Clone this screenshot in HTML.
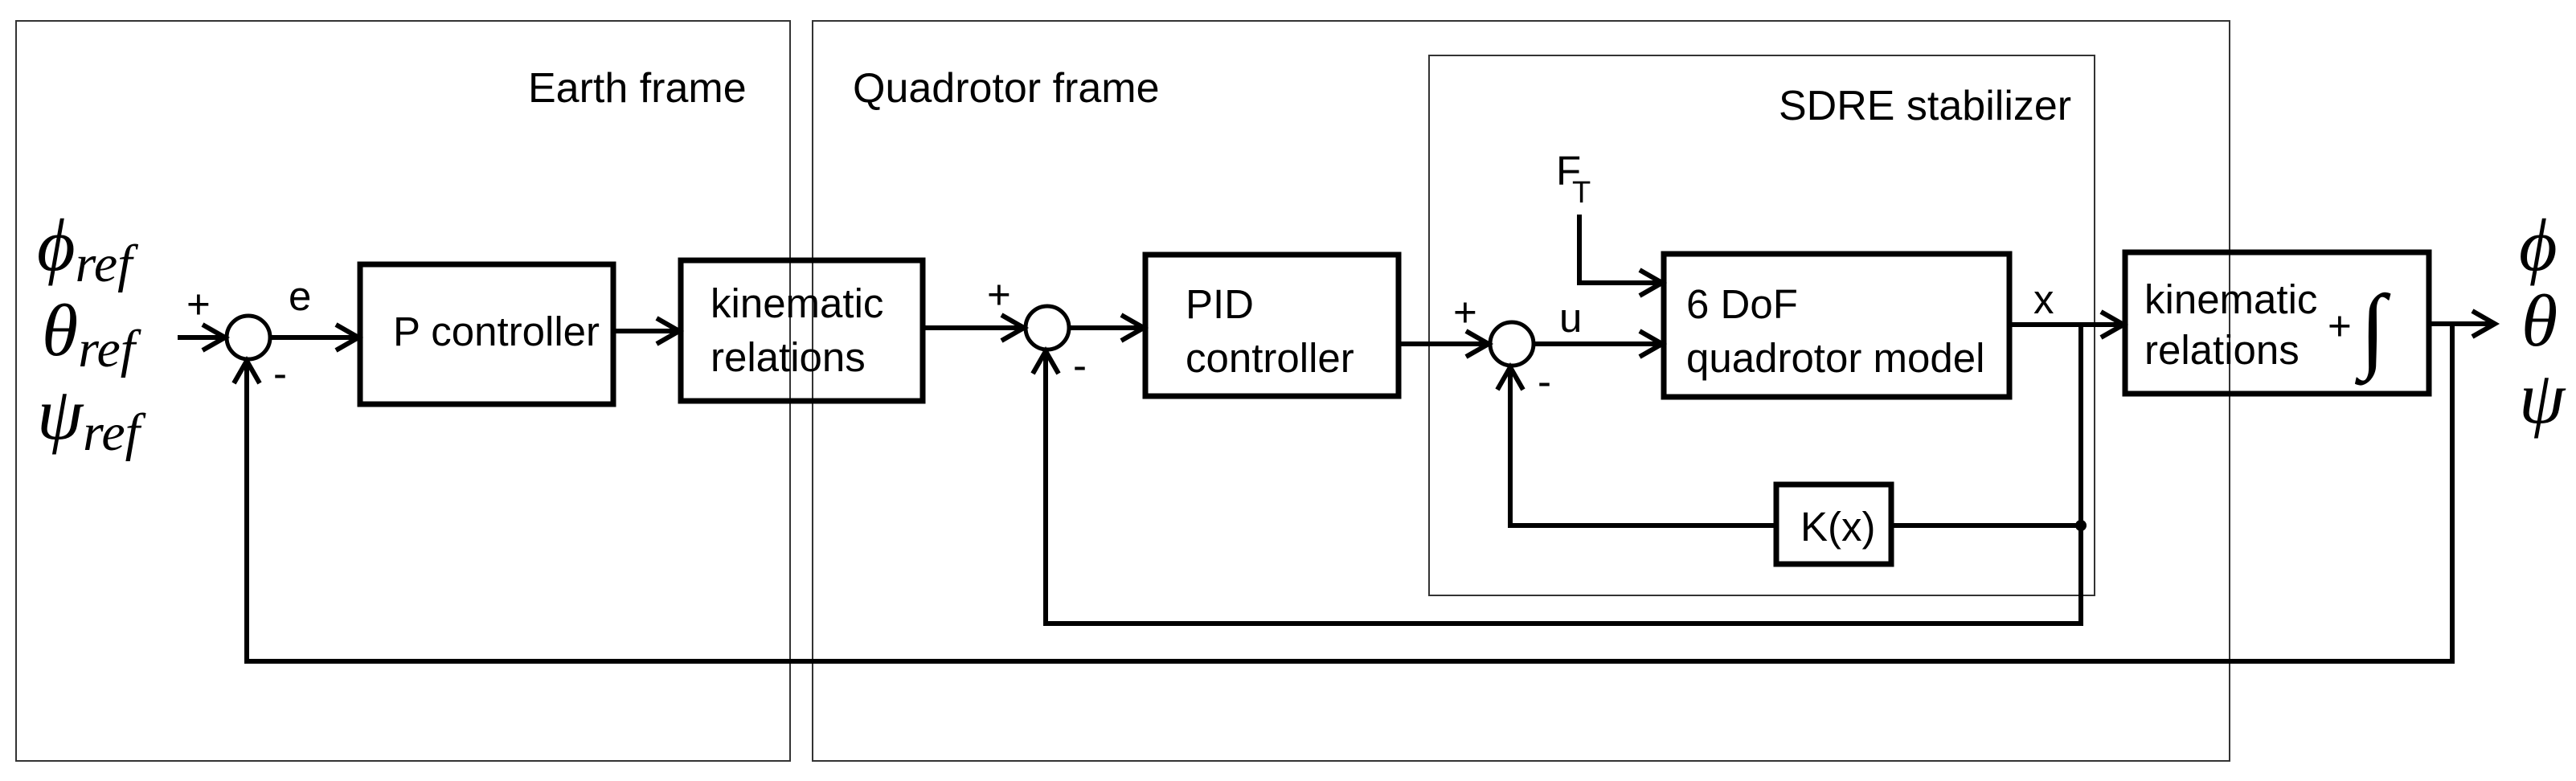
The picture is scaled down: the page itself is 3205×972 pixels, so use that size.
<!DOCTYPE html>
<html><head><meta charset="utf-8"><style>
html,body{margin:0;padding:0;background:#fff;}
svg{display:block;}
.t{font-family:"Liberation Sans",sans-serif;fill:#000;}
.m{font-family:"Liberation Serif",serif;font-style:italic;fill:#000;}
</style></head><body>
<svg width="3205" height="972" viewBox="0 0 3205 972" xmlns="http://www.w3.org/2000/svg">
<g fill="none" stroke="#333" stroke-width="2">
<rect x="20" y="26" width="963" height="921"/>
<rect x="1011" y="26" width="1763" height="921"/>
<rect x="1778" y="69" width="828" height="672"/>
</g>
<g class="t" font-size="52">
<text x="657" y="127">Earth frame</text>
<text x="1061" y="127">Quadrotor frame</text>
<text x="2213" y="149">SDRE stabilizer</text>
</g>
<g fill="none" stroke="#000" stroke-width="7">
<rect x="448" y="329" width="315" height="174"/>
<rect x="847" y="324" width="301" height="175"/>
<rect x="1425" y="317" width="315" height="176"/>
<rect x="2070" y="316" width="430" height="178"/>
<rect x="2210" y="603" width="143" height="99"/>
<rect x="2644" y="314" width="378" height="176"/>
</g>
<g fill="none" stroke="#000" stroke-width="5">
<circle cx="309" cy="420" r="27"/>
<circle cx="1303" cy="408" r="27"/>
<circle cx="1881" cy="428" r="27"/>
</g>
<g fill="none" stroke="#000" stroke-width="6" stroke-linejoin="miter">
<line x1="221" y1="420" x2="280" y2="420"/>
<polyline points="252,404 280,420 252,436"/>
<line x1="336" y1="420" x2="446" y2="420"/>
<polyline points="418,404 446,420 418,436"/>
<line x1="763" y1="412" x2="845" y2="412"/>
<polyline points="817,396 845,412 817,428"/>
<line x1="1148" y1="408" x2="1274" y2="408"/>
<polyline points="1246,392 1274,408 1246,424"/>
<line x1="1330" y1="408" x2="1423" y2="408"/>
<polyline points="1395,392 1423,408 1395,424"/>
<line x1="1740" y1="428" x2="1852" y2="428"/>
<polyline points="1824,412 1852,428 1824,444"/>
<line x1="1908" y1="428" x2="2068" y2="428"/>
<polyline points="2040,412 2068,428 2040,444"/>
<polyline points="1965,267 1965,352 2068,352"/>
<polyline points="2040,336 2068,352 2040,368"/>
<line x1="2500" y1="404" x2="2642" y2="404"/>
<polyline points="2614,388 2642,404 2614,420"/>
<line x1="3022" y1="403" x2="3104" y2="403"/>
<polyline points="3076,387 3104,403 3076,419"/>
<polyline points="2589,404 2589,776 1301,776 1301,437"/>
<polyline points="1285,465 1301,437 1317,465"/>
<line x1="2589" y1="654" x2="2353" y2="654"/>
<polyline points="2210,654 1879,654 1879,457"/>
<polyline points="1863,485 1879,457 1895,485"/>
<polyline points="3051,403 3051,823 307,823 307,449"/>
<polyline points="291,477 307,449 323,477"/>
</g>
<circle cx="2589" cy="654" r="7" fill="#000"/>
<g class="t" font-size="51">
<text x="489" y="430">P controller</text>
<text x="884" y="395">kinematic</text>
<text x="884" y="462">relations</text>
<text x="1475" y="396">PID</text>
<text x="1475" y="463">controller</text>
<text x="2098" y="396">6 DoF</text>
<text x="2098" y="463">quadrotor model</text>
<text x="2240" y="673">K(x)</text>
<text x="2668" y="390">kinematic</text>
<text x="2668" y="453">relations</text>
<text x="2896" y="423">+</text>
<text x="232" y="396">+</text>
<text x="359" y="386">e</text>
<text x="340" y="482">-</text>
<text x="1228" y="384">+</text>
<text x="1335" y="472">-</text>
<text x="1808" y="406">+</text>
<text x="1940" y="413">u</text>
<text x="1913" y="492">-</text>
<text x="2530" y="390">x</text>
<text x="1936" y="230">F</text>
<text x="1956" y="252" font-size="38">T</text>
</g>
<text class="m" x="2936" y="448" font-size="118" font-style="normal">∫</text>
<g class="m" font-size="92">
<text x="46" y="336">ϕ<tspan font-size="66" dy="14">ref</tspan></text>
<text x="52" y="442">θ<tspan font-size="66" dy="14">ref</tspan></text>
<text x="46" y="546">ψ<tspan font-size="66" dy="14">ref</tspan></text>
<text x="3134" y="336">ϕ</text>
<text x="3137" y="430">θ</text>
<text x="3134" y="526">ψ</text>
</g>
</svg>
</body></html>
